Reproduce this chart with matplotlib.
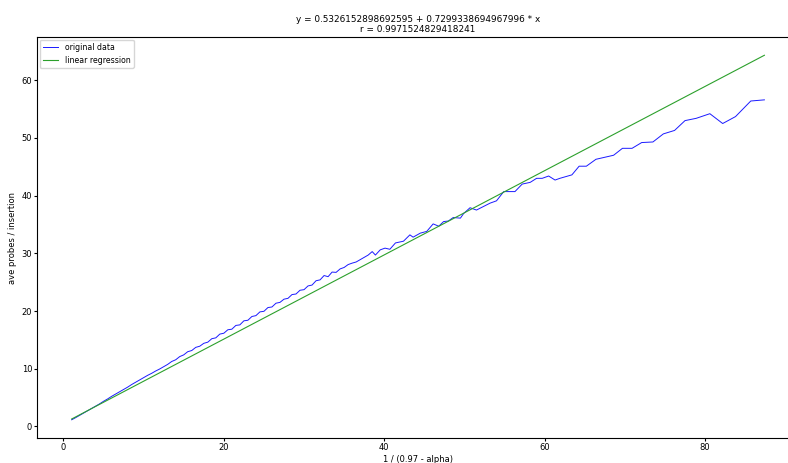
import numpy as np
import matplotlib.pyplot as plt

# regression coefficients shown in the title
intercept = 0.5326152898692595
slope = 0.7299338694967996
r_value = 0.9971524829418241

# x = 1 / (0.97 - alpha), y = average probes per insertion
x_data = [1.03, 1.5, 2.0, 2.5, 3.0, 3.5, 4.0, 4.5, 5.0, 5.5, 6.0, 6.5, 7.0, 7.5,
          8.0, 8.5, 9.0, 9.5, 10.0, 10.5, 11.0, 11.5, 12.0, 12.5, 13.0, 13.5,
          14.0, 14.5, 15.0, 15.5, 16.0, 16.5, 17.0, 17.5, 18.0, 18.5, 19.0,
          19.5, 20.0, 20.5, 21.0, 21.5, 22.0, 22.5, 23.0, 23.5, 24.0, 24.5,
          25.0, 25.5, 26.0, 26.5, 27.0, 27.5, 28.0, 28.5, 29.0, 29.5, 30.0,
          30.5, 31.0, 31.5, 32.0, 32.5, 33.0, 33.5, 34.0, 34.5, 35.0, 35.5,
          36.0, 36.5, 37.0, 38.0, 38.5, 38.9, 39.5, 40.1, 40.7, 41.4, 42.4,
          43.2, 43.6, 44.5, 45.3, 46.1, 46.8, 47.4, 48.0, 48.6, 49.5, 49.9,
          50.7, 51.5, 53.2, 54.0, 54.9, 56.3, 57.2, 58.2, 59.0, 59.7, 60.5,
          61.3, 61.9, 63.4, 64.3, 65.2, 66.4, 68.6, 69.7, 70.9, 72.1, 73.5,
          74.8, 76.2, 77.5, 78.9, 80.6, 82.2, 83.8, 85.7, 87.4]
y_data = [1.15, 1.5, 1.9, 2.3, 2.7, 3.1, 3.5, 3.9, 4.35, 4.75, 5.2, 5.6, 6.0, 6.4,
          6.8, 7.25, 7.65, 8.05, 8.45, 8.85, 9.2, 9.6, 9.95, 10.35, 10.75, 11.25,
          11.55, 12.1, 12.4, 12.95, 13.15, 13.7, 13.9, 14.4, 14.6, 15.2, 15.35,
          16.0, 16.15, 16.75, 16.85, 17.5, 17.6, 18.3, 18.4, 19.05, 19.2, 19.85,
          19.95, 20.6, 20.7, 21.35, 21.5, 22.05, 22.2, 22.85, 22.95, 23.6, 23.7,
          24.35, 24.5, 25.25, 25.4, 26.15, 25.95, 26.75, 26.7, 27.3, 27.55, 28.05,
          28.3, 28.5, 28.9, 29.7, 30.3, 29.7, 30.6, 30.9, 30.7, 31.8, 32.1,
          33.2, 32.8, 33.5, 33.8, 35.1, 34.7, 35.5, 35.6, 36.2, 36.1, 36.9,
          37.9, 37.5, 38.7, 39.1, 40.7, 40.7, 42.0, 42.3, 43.0, 43.0, 43.4,
          42.7, 43.0, 43.6, 45.1, 45.1, 46.3, 47.0, 48.2, 48.2, 49.2, 49.3,
          50.7, 51.3, 53.0, 53.4, 54.2, 52.5, 53.7, 56.4, 56.6]

x = np.array(x_data)
y = np.array(y_data)
fit = intercept + slope * x

plt.rcParams['font.size'] = 6

fig = plt.figure(figsize=(7.88, 4.63), dpi=100)
ax = fig.add_axes([0.047, 0.054, 0.967, 0.866])
ax.plot(x, y, color='#1a1aff', linewidth=0.7, label='original data')
ax.plot(x, fit, color='tab:green', linewidth=0.8, label='linear regression')
ax.set_title('y = {} + {} * x\nr = {}'.format(intercept, slope, r_value),
             fontsize=6.4, pad=3.5)
ax.set_xlabel('1 / (0.97 - alpha)', labelpad=2)
ax.set_ylabel('ave probes / insertion', labelpad=3.5)
ax.tick_params(length=2, pad=1.5, labelsize=6)
ax.legend(loc='upper left', fontsize=5.6, handlelength=2.0, borderaxespad=0.35)
ax.spines['right'].set_visible(False)

fig.savefig('out.png', dpi=100)
